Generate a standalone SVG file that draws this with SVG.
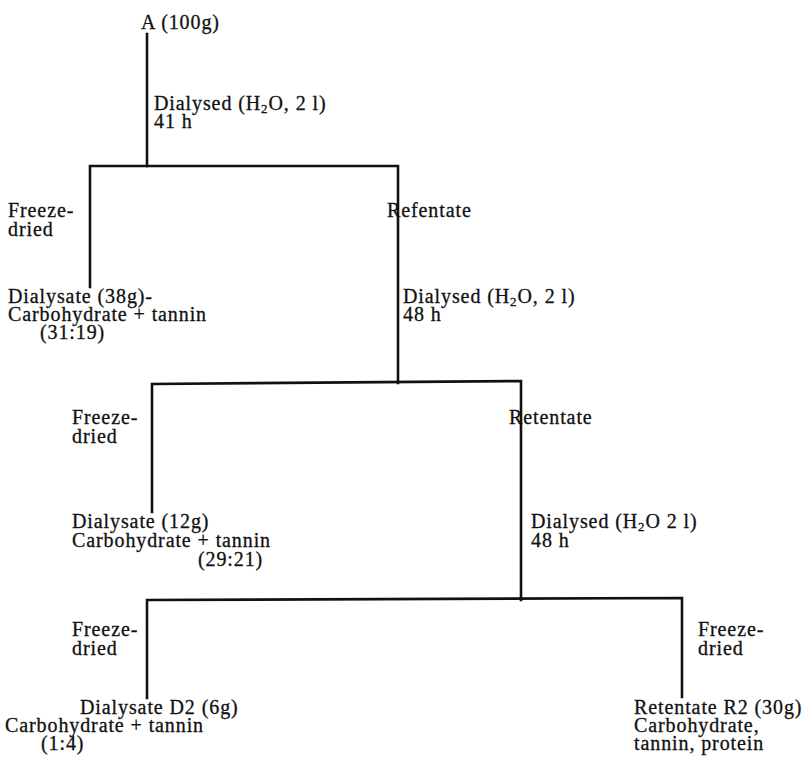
<svg xmlns="http://www.w3.org/2000/svg" width="809" height="762" viewBox="0 0 809 762">
<style>
  text { font-family: "Liberation Serif", "Times New Roman", serif; font-size: 20px; fill: #111; stroke: #111; stroke-width: 0.3; letter-spacing: 0.9px; }
  .sub { font-size: 13px; }
  .ln { stroke: #111; stroke-width: 2.6; fill: none; stroke-linecap: square; }
</style>
<rect width="809" height="762" fill="#fff"/>
<g id="connectors">
  <line class="ln" x1="147" y1="34" x2="147" y2="166"/>
  <polyline class="ln" points="90,287 90,166 398,166 398,383"/>
  <polyline class="ln" points="152,512 152,384 521,381 521,600"/>
  <polyline class="ln" points="147,698 147,600 682,598 682,697"/>
</g>
<g id="nodeA"><text x="141" y="29">A (100g)</text></g>
<g id="step1">
  <text x="154" y="110">Dialysed (H<tspan class="sub" dy="3">2</tspan><tspan dy="-3">O, 2 l)</tspan></text>
  <text x="154" y="128">41 h</text>
</g>
<g id="fd1"><text x="8" y="217">Freeze-</text><text x="8" y="236">dried</text></g>
<g id="ret1"><text x="387" y="217">Refentate</text></g>
<g id="dialysate1">
  <text x="8" y="303">Dialysate (38g)-</text>
  <text x="8" y="321">Carbohydrate + tannin</text>
  <text x="40" y="339">(31:19)</text>
</g>
<g id="step2">
  <text x="403" y="303">Dialysed (H<tspan class="sub" dy="3">2</tspan><tspan dy="-3">O, 2 l)</tspan></text>
  <text x="403" y="321">48 h</text>
</g>
<g id="fd2"><text x="72" y="424">Freeze-</text><text x="72" y="443">dried</text></g>
<g id="ret2"><text x="509" y="424">Retentate</text></g>
<g id="dialysate2">
  <text x="72" y="528">Dialysate (12g)</text>
  <text x="72" y="547">Carbohydrate + tannin</text>
  <text x="198" y="566">(29:21)</text>
</g>
<g id="step3">
  <text x="531" y="528">Dialysed (H<tspan class="sub" dy="3">2</tspan><tspan dy="-3">O  2  l)</tspan></text>
  <text x="531" y="547">48 h</text>
</g>
<g id="fd3l"><text x="72" y="636">Freeze-</text><text x="72" y="655">dried</text></g>
<g id="fd3r"><text x="698" y="636">Freeze-</text><text x="698" y="655">dried</text></g>
<g id="d2">
  <text x="80" y="714">Dialysate D2 (6g)</text>
  <text x="5" y="732">Carbohydrate + tannin</text>
  <text x="41" y="750">(1:4)</text>
</g>
<g id="r2">
  <text x="634" y="714">Retentate R2 (30g)</text>
  <text x="634" y="732">Carbohydrate,</text>
  <text x="634" y="750">tannin, protein</text>
</g>
</svg>
